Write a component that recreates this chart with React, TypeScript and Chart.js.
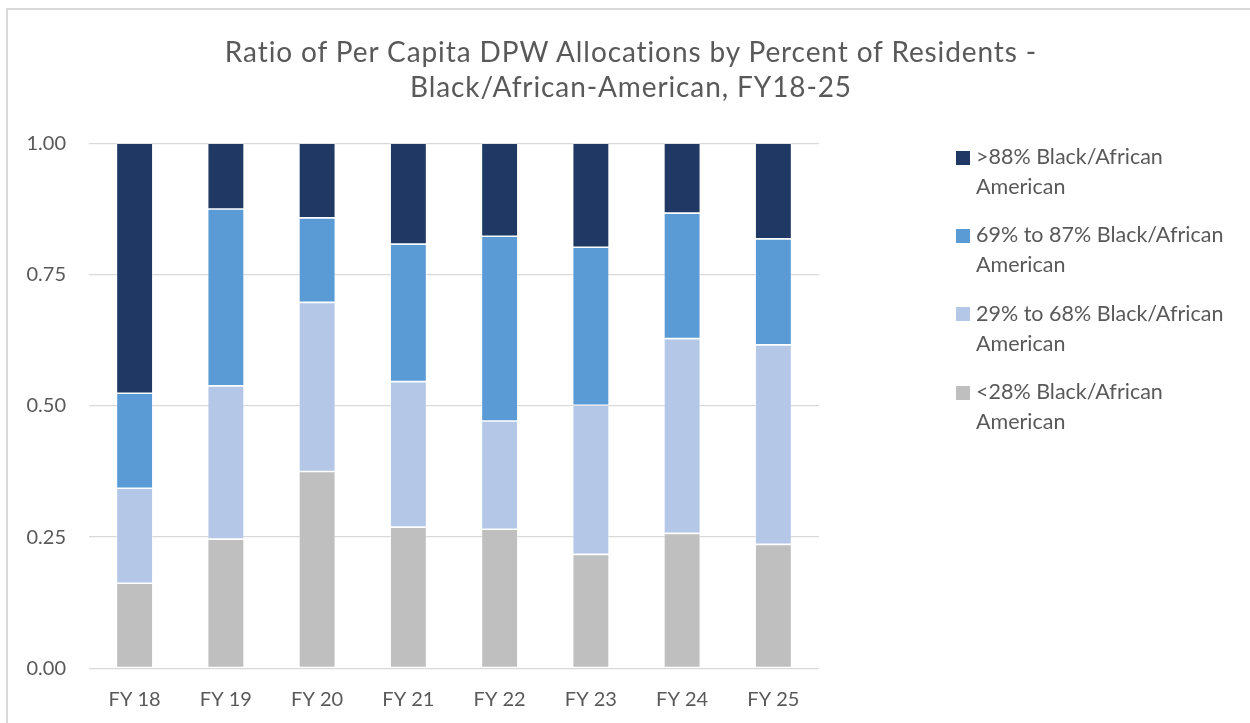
import React, { useEffect, useRef } from "react";
import { Chart, registerables } from "chart.js";

Chart.register(...registerables);

// ---- Data ----
const categories = ["FY 18", "FY 19", "FY 20", "FY 21", "FY 22", "FY 23", "FY 24", "FY 25"];
const below28 = [0.162, 0.246, 0.375, 0.269, 0.265, 0.217, 0.257, 0.236];
const from29to68 = [0.181, 0.292, 0.322, 0.277, 0.206, 0.284, 0.371, 0.38];
const from69to87 = [0.181, 0.337, 0.161, 0.262, 0.352, 0.301, 0.239, 0.202];
const above88 = [0.476, 0.125, 0.142, 0.192, 0.177, 0.198, 0.133, 0.182];
const yTicks = [0, 0.25, 0.5, 0.75, 1];
const seriesLabels = [
  "<28% Black/African American",
  "29% to 68% Black/African American",
  "69% to 87% Black/African American",
  ">88% Black/African American",
];
const seriesColors = ["#BFBFBF", "#B4C7E7", "#5B9BD5", "#203864"];
const titleLines = [
  "Ratio of Per Capita DPW Allocations by Percent of Residents -",
  "Black/African-American, FY18-25",
];

const W = 1250;
const H = 723;
const AREA = { left: 89, right: 819, top: 143.3, bottom: 668.3 };

export default function App() {
  const canvasRef = useRef<HTMLCanvasElement | null>(null);

  useEffect(() => {
    document.body.style.margin = "0";
    document.body.style.overflow = "hidden";
    const canvas = canvasRef.current;
    if (!canvas) return;
    const seriesData = [below28, from29to68, from69to87, above88];
    const chart = new Chart(canvas, {
      type: "bar",
      data: {
        labels: categories,
        datasets: seriesData.map((d, i) => ({
          label: seriesLabels[i],
          data: d,
          backgroundColor: seriesColors[i],
          borderColor: "rgba(255,255,255,0.55)",
          borderWidth: 0.8,
          borderSkipped: false,
          barPercentage: 0.4,
          categoryPercentage: 1,
        })),
      },
      options: {
        responsive: false,
        animation: false,
        events: [],
        layout: {
          padding: { top: AREA.top, right: W - AREA.right, left: 0, bottom: 0 },
        },
        plugins: {
          legend: { display: false },
          title: { display: false },
          tooltip: { enabled: false },
        },
        scales: {
          x: {
            stacked: true,
            grid: { display: false },
            border: { display: false },
            ticks: {
              color: "#595959",
              font: { family: "Lato", size: 20 },
              padding: 11,
              maxRotation: 0,
            },
            afterFit: (scale: any) => {
              scale.height = H - AREA.bottom;
            },
          },
          y: {
            stacked: true,
            min: 0,
            max: 1,
            afterBuildTicks: (scale: any) => {
              scale.ticks = yTicks.map((v) => ({ value: v }));
            },
            grid: { color: "#d9d9d9", lineWidth: 1.3, drawTicks: false },
            border: { display: false },
            ticks: {
              color: "#595959",
              font: { family: "Lato", size: 20 },
              padding: 23,
              callback: (v: any) => Number(v).toFixed(2),
            },
            afterFit: (scale: any) => {
              scale.width = AREA.left;
            },
          },
        },
      },
    });
    return () => chart.destroy();
  }, []);

  const legendTops = [141, 219.4, 297.7, 376];
  const legendOrder = [3, 2, 1, 0];

  return (
    <div style={{ position: "relative", width: W, height: H, overflow: "hidden", background: "#fff" }}>
      <div
        style={{
          position: "absolute",
          left: 6,
          top: 8,
          width: W + 20,
          height: H + 20,
          borderLeft: "2px solid #d9d9d9",
          borderTop: "2px solid #d9d9d9",
          boxSizing: "border-box",
        }}
      />
      <canvas ref={canvasRef} width={W} height={H} style={{ position: "absolute", left: 0, top: 0 }} />
      <div
        style={{
          position: "absolute",
          left: 0,
          width: 1262,
          top: 34.3,
          textAlign: "center",
          fontFamily: "Lato",
          fontWeight: 400,
          fontSize: 28,
          letterSpacing: "0.9px",
          lineHeight: "34.4px",
          color: "#595959",
        }}
      >
        {titleLines.map((t, i) => (
          <div key={i}>{t}</div>
        ))}
      </div>
      {legendOrder.map((si, k) => {
        const words = seriesLabels[si].split(" ");
        const last = words.pop();
        return (
          <div key={si} style={{ position: "absolute", left: 956, top: legendTops[k] }}>
            <div
              style={{
                position: "absolute",
                left: 0,
                top: 9.5,
                width: 14,
                height: 14,
                background: seriesColors[si],
              }}
            />
            <div
              style={{
                position: "absolute",
                left: 20,
                top: 0,
                whiteSpace: "nowrap",
                fontFamily: "Lato",
                fontSize: 21.5,
                lineHeight: "30px",
                color: "#595959",
              }}
            >
              <div>{words.join(" ")}</div>
              <div>{last}</div>
            </div>
          </div>
        );
      })}
    </div>
  );
}
